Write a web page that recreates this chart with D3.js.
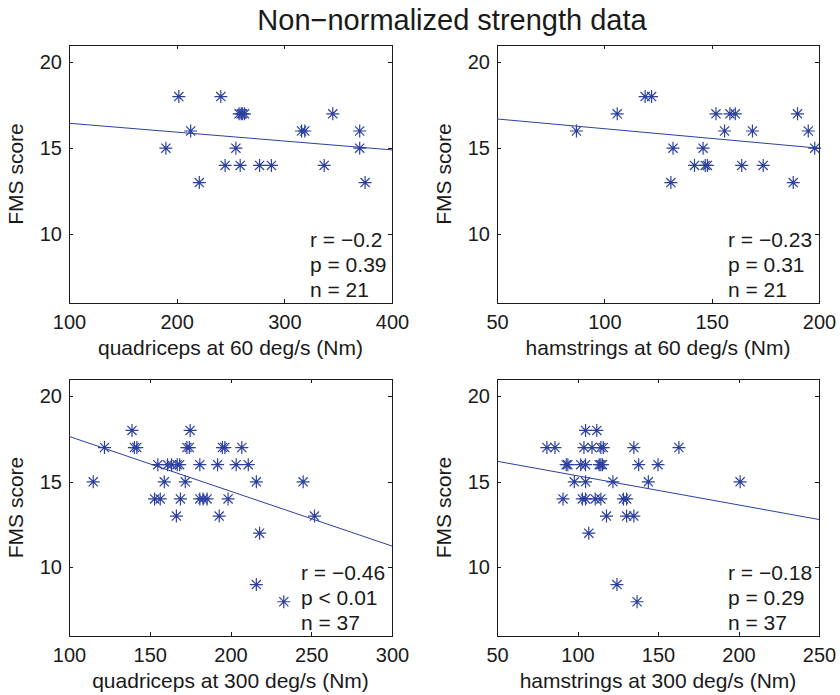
<!DOCTYPE html>
<html>
<head>
<meta charset="utf-8">
<script src="https://cdn.jsdelivr.net/npm/d3@7"></script>
<style>
  body { margin: 0; background: #fff; }
  svg { font-family: "Liberation Sans", Arial, Helvetica, sans-serif; }
  .axis path, .axis line { stroke: #1a1a1a; shape-rendering: crispEdges; }
  .axis text { fill: #1a1a1a; font-size: 20px; }
</style>
</head>
<body>
<svg id="chart" width="840" height="695"></svg>
<script>
// --- data ---
var titleText = 'Non\u2212normalized strength data';
var yLabelText = 'FMS score';
var yTicks = [ 10, 15, 20 ];

// quadriceps 60 deg/s
var quad60 = [ 202, 241, 258, 260, 261, 263, 345, 213, 316, 319, 370, 190, 255, 370, 245, 259, 277, 288, 337, 221, 375 ];
var fmsQuad60 = [ 18, 18, 17, 17, 17, 17, 17, 16, 16, 16, 16, 15, 15, 15, 14, 14, 14, 14, 14, 13, 13 ];

// hamstrings 60 deg/s
var ham60 = [ 119, 122, 106, 152, 158.5, 161, 190, 87, 156, 169, 195, 132, 146, 198, 142, 147, 148, 164, 174, 131, 188 ];
var fmsHam60 = [ 18, 18, 17, 17, 17, 17, 17, 16, 16, 16, 16, 15, 15, 15, 14, 14, 14, 14, 14, 13, 13 ];

// quadriceps 300 deg/s
var quad300 = [ 139, 175,
  122, 140.5, 142, 173, 174.5, 195, 196.5, 207,
  155, 161, 163.5, 167, 168.5, 181, 192, 203.5, 211,
  115, 159, 172, 216, 245,
  153, 156.5, 169, 181, 183, 185.5, 198.5,
  166.5, 193, 252,
  218, 216, 233 ];
var fmsQuad300 = [ 18, 18,
  17, 17, 17, 17, 17, 17, 17, 17,
  16, 16, 16, 16, 16, 16, 16, 16, 16,
  15, 15, 15, 15, 15,
  14, 14, 14, 14, 14, 14, 14,
  13, 13, 13,
  12, 9, 8 ];

// hamstrings 300 deg/s
var ham300 = [ 105, 112,
  81, 86, 104, 109, 114.5, 116, 135, 163,
  93, 94, 102, 105, 113.5, 114.5, 115.5, 138, 150,
  98, 105, 122, 144, 201,
  91, 103, 105, 111, 114.5, 128.5, 130.5,
  118, 130.5, 135,
  107, 124.5, 137 ];
var fmsHam300 = fmsQuad300;

// fitted line, FMS value at the left and right end of the x range
var fitQuad60 = [ 16.45, 14.9 ];
var fitHam60 = [ 16.7, 15.0 ];
var fitQuad300 = [ 17.65, 11.25 ];
var fitHam300 = [ 16.2, 12.8 ];

var statsQuad60 = [ 'r = \u22120.2', 'p = 0.39', 'n = 21' ];
var statsHam60 = [ 'r = \u22120.23', 'p = 0.31', 'n = 21' ];
var statsQuad300 = [ 'r = \u22120.46', 'p < 0.01', 'n = 37' ];
var statsHam300 = [ 'r = \u22120.18', 'p = 0.29', 'n = 37' ];

var panels = [
  { x: quad60, y: fmsQuad60, fit: fitQuad60, stats: statsQuad60, xDomain: [ 100, 400 ], xTicks: [ 100, 200, 300, 400 ],
    xLabel: 'quadriceps at 60 deg/s (Nm)', left: 69, right: 392, top: 45, bottom: 303, statsDx: 82 },
  { x: ham60, y: fmsHam60, fit: fitHam60, stats: statsHam60, xDomain: [ 50, 200 ], xTicks: [ 50, 100, 150, 200 ],
    xLabel: 'hamstrings at 60 deg/s (Nm)', left: 497, right: 819, top: 45, bottom: 303, statsDx: 91 },
  { x: quad300, y: fmsQuad300, fit: fitQuad300, stats: statsQuad300, xDomain: [ 100, 300 ], xTicks: [ 100, 150, 200, 250, 300 ],
    xLabel: 'quadriceps at 300 deg/s (Nm)', left: 69, right: 392, top: 379, bottom: 636, statsDx: 91 },
  { x: ham300, y: fmsHam300, fit: fitHam300, stats: statsHam300, xDomain: [ 50, 250 ], xTicks: [ 50, 100, 150, 200, 250 ],
    xLabel: 'hamstrings at 300 deg/s (Nm)', left: 497, right: 819, top: 379, bottom: 636, statsDx: 91 }
];

var blue = '#2d40a0';
var svg = d3.select( '#chart' );

// title
svg.append( 'text' )
  .attr( 'x', 452 )
  .attr( 'y', 30 )
  .attr( 'text-anchor', 'middle' )
  .attr( 'font-size', '29px' )
  .attr( 'fill', '#1a1a1a' )
  .text( titleText );

// asterisk marker like matlab '*'
function starPath( r ) {
  var d = r / Math.SQRT2;
  return 'M' + -r + ',0H' + r + 'M0,' + -r + 'V' + r +
    'M' + -d + ',' + -d + 'L' + d + ',' + d +
    'M' + -d + ',' + d + 'L' + d + ',' + -d;
}

panels.forEach( function ( p, i ) {
  var x = d3.scaleLinear().domain( p.xDomain ).range( [ p.left, p.right ] );
  var y = d3.scaleLinear().domain( [ 6, 21 ] ).range( [ p.bottom, p.top ] );
  var g = svg.append( 'g' );

  // clip for the fit line
  svg.append( 'clipPath' ).attr( 'id', 'clip' + i )
    .append( 'rect' )
    .attr( 'x', p.left ).attr( 'y', p.top )
    .attr( 'width', p.right - p.left ).attr( 'height', p.bottom - p.top );

  // axes, ticks pointing inward on all four sides
  g.append( 'g' ).attr( 'class', 'axis' )
    .attr( 'transform', 'translate(0,' + p.bottom + ')' )
    .call( d3.axisBottom( x ).tickValues( p.xTicks ).tickSize( -4 ).tickSizeOuter( 0 ).tickPadding( 12 ) );
  g.append( 'g' ).attr( 'class', 'axis' )
    .attr( 'transform', 'translate(0,' + p.top + ')' )
    .call( d3.axisTop( x ).tickValues( p.xTicks ).tickSize( -4 ).tickSizeOuter( 0 ).tickFormat( '' ) );
  g.append( 'g' ).attr( 'class', 'axis' )
    .attr( 'transform', 'translate(' + p.left + ',0)' )
    .call( d3.axisLeft( y ).tickValues( yTicks ).tickSize( -4 ).tickSizeOuter( 0 ).tickPadding( 7 ) );
  g.append( 'g' ).attr( 'class', 'axis' )
    .attr( 'transform', 'translate(' + p.right + ',0)' )
    .call( d3.axisRight( y ).tickValues( yTicks ).tickSize( -4 ).tickSizeOuter( 0 ).tickFormat( '' ) );

  // fit line
  g.append( 'line' )
    .attr( 'clip-path', 'url(#clip' + i + ')' )
    .attr( 'x1', x( p.xDomain[ 0 ] ) ).attr( 'y1', y( p.fit[ 0 ] ) )
    .attr( 'x2', x( p.xDomain[ 1 ] ) ).attr( 'y2', y( p.fit[ 1 ] ) )
    .attr( 'stroke', blue )
    .attr( 'stroke-width', 1 );

  // points
  g.selectAll( '.pt' )
    .data( d3.zip( p.x, p.y ) )
    .enter().append( 'path' )
    .attr( 'class', 'pt' )
    .attr( 'transform', function ( d ) { return 'translate(' + x( d[ 0 ] ) + ',' + y( d[ 1 ] ) + ')'; } )
    .attr( 'd', starPath( 6.5 ) )
    .attr( 'fill', 'none' )
    .attr( 'stroke', blue )
    .attr( 'stroke-width', 1.2 );

  // r / p / n text
  g.selectAll( '.stat' )
    .data( p.stats )
    .enter().append( 'text' )
    .attr( 'class', 'stat' )
    .attr( 'x', p.right - p.statsDx )
    .attr( 'y', function ( d, k ) { return p.bottom - 56 + k * 25; } )
    .attr( 'font-size', '21px' )
    .attr( 'fill', '#1a1a1a' )
    .text( function ( d ) { return d; } );

  // axis labels
  g.append( 'text' )
    .attr( 'x', ( p.left + p.right ) / 2 )
    .attr( 'y', p.bottom + 52 )
    .attr( 'text-anchor', 'middle' )
    .attr( 'font-size', '21px' )
    .attr( 'fill', '#1a1a1a' )
    .text( p.xLabel );
  g.append( 'text' )
    .attr( 'transform', 'translate(' + ( p.left - 46 ) + ',' + ( p.top + p.bottom ) / 2 + ') rotate(-90)' )
    .attr( 'text-anchor', 'middle' )
    .attr( 'font-size', '21px' )
    .attr( 'fill', '#1a1a1a' )
    .text( yLabelText );
} );
</script>
</body>
</html>
